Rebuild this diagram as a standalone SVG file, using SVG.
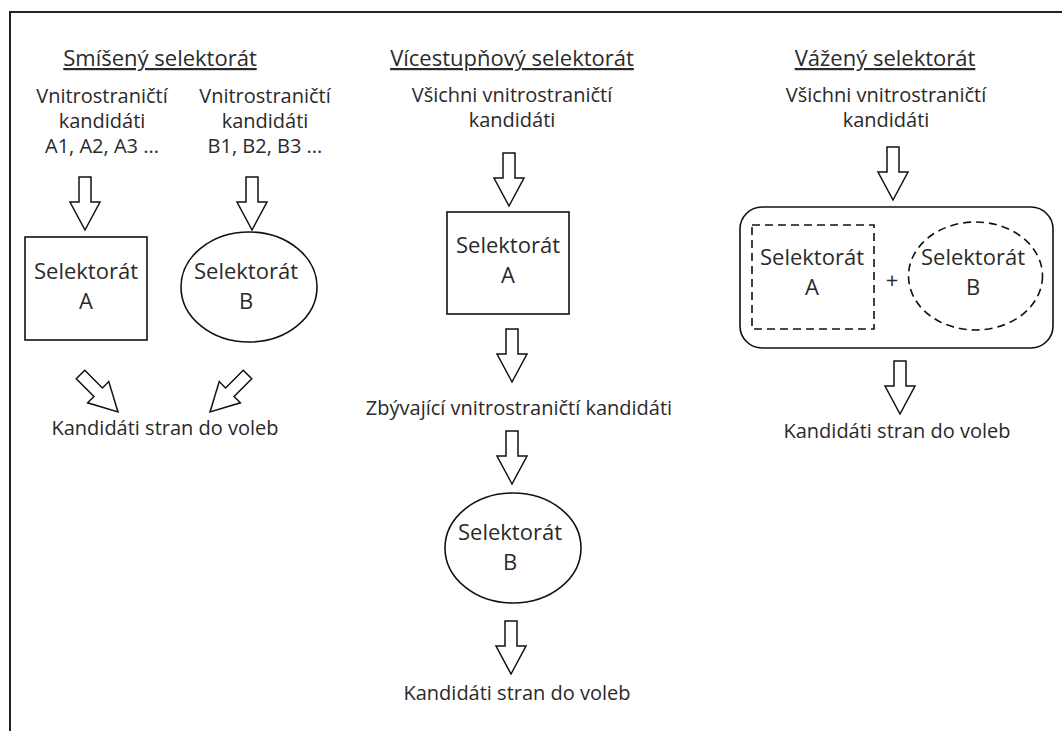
<svg xmlns="http://www.w3.org/2000/svg" width="1062" height="731" viewBox="0 0 1062 731">
<style>
text{font-family:"Open Sans","Liberation Sans",sans-serif;fill:#2a2a2a;text-anchor:middle}
.t{font-size:22px;text-decoration:underline}
.l{font-size:20px}
.b{font-size:22px}
.shape{fill:#fff;stroke:#111;stroke-width:1.6}
.dash{fill:none;stroke:#111;stroke-width:1.6;stroke-dasharray:8 5}
.arr{fill:#fff;stroke:#111;stroke-width:1.5;stroke-linejoin:miter}
</style>
<defs>
<path id="ar" d="M-6,0 H6 V25 H15 L0,53 L-15,25 H-6 Z"/>
</defs>
<rect width="1062" height="731" fill="#fff"/>
<path d="M1062,12 H10 V731" fill="none" stroke="#222" stroke-width="2"/>

<g id="col1">
<g id="title1"><text class="t" x="160" y="66">Smíšený selektorát</text></g>
<g id="inA"><text class="l" x="102" y="103">Vnitrostraničtí</text><text class="l" x="102" y="128">kandidáti</text><text class="l" x="102" y="153">A1, A2, A3 ...</text></g>
<g id="inB"><text class="l" x="265" y="103">Vnitrostraničtí</text><text class="l" x="265" y="128">kandidáti</text><text class="l" x="265" y="153">B1, B2, B3 ...</text></g>
<g id="selA1"><rect class="shape" x="25" y="237" width="122" height="103"/><text class="b" x="86" y="279">Selektorát</text><text class="b" x="86" y="309">A</text></g>
<g id="selB1"><ellipse class="shape" cx="249" cy="287" rx="68" ry="55"/><text class="b" x="246" y="279">Selektorát</text><text class="b" x="246" y="309">B</text></g>
<g id="out1"><text class="l" x="165" y="435">Kandidáti stran do voleb</text></g>
</g>

<g id="col2">
<g id="title2"><text class="t" x="512" y="66">Vícestupňový selektorát</text></g>
<g id="in2"><text class="l" x="512" y="102">Všichni vnitrostraničtí</text><text class="l" x="512" y="127">kandidáti</text></g>
<g id="selA2"><rect class="shape" x="447" y="212" width="122" height="102"/><text class="b" x="508" y="253">Selektorát</text><text class="b" x="508" y="283">A</text></g>
<g id="mid2"><text class="l" x="519" y="415">Zbývající vnitrostraničtí kandidáti</text></g>
<g id="selB2"><ellipse class="shape" cx="513" cy="548" rx="68" ry="55"/><text class="b" x="510" y="540">Selektorát</text><text class="b" x="510" y="570">B</text></g>
<g id="out2"><text class="l" x="517" y="700">Kandidáti stran do voleb</text></g>
</g>

<g id="col3">
<g id="title3"><text class="t" x="885" y="66">Vážený selektorát</text></g>
<g id="in3"><text class="l" x="886" y="102">Všichni vnitrostraničtí</text><text class="l" x="886" y="127">kandidáti</text></g>
<g id="weighted"><rect class="shape" x="740" y="207" width="313" height="141" rx="22"/>
<g id="selA3"><rect class="dash" x="752" y="225" width="122" height="104"/><text class="b" x="812" y="265">Selektorát</text><text class="b" x="812" y="295">A</text></g>
<text class="b" x="892" y="288">+</text>
<g id="selB3"><ellipse class="dash" cx="975.5" cy="276" rx="67" ry="54"/><text class="b" x="973" y="265">Selektorát</text><text class="b" x="973" y="295">B</text></g>
</g>
<g id="out3"><text class="l" x="897" y="438">Kandidáti stran do voleb</text></g>
</g>

<g id="connectors" class="arr">
<use href="#ar" transform="translate(85,177)"/>
<use href="#ar" transform="translate(252,177)"/>
<use href="#ar" transform="translate(80.5,374.5) rotate(-45)"/>
<use href="#ar" transform="translate(247.5,374.5) rotate(45)"/>
<use href="#ar" transform="translate(509,153)"/>
<use href="#ar" transform="translate(512,329)"/>
<use href="#ar" transform="translate(512,431)"/>
<use href="#ar" transform="translate(511,621)"/>
<use href="#ar" transform="translate(893,147)"/>
<use href="#ar" transform="translate(900,361)"/>
</g>
</svg>
